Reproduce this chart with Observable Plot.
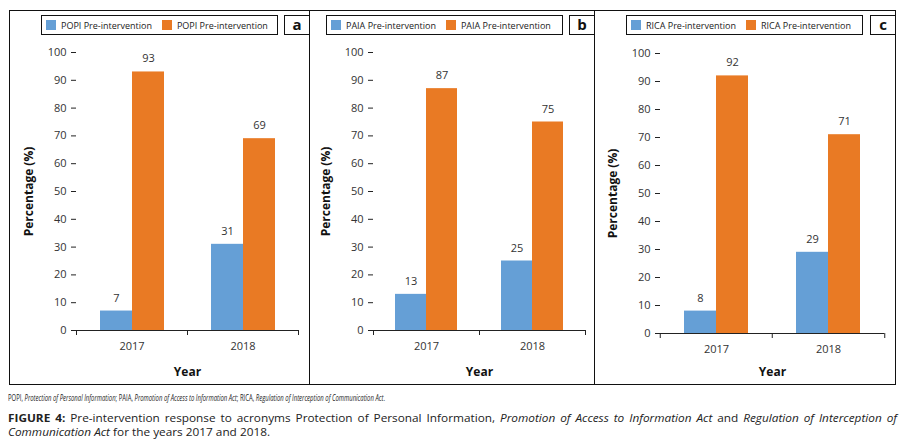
<!DOCTYPE html>
<html>
<head>
<meta charset="utf-8">
<script src="https://cdn.jsdelivr.net/npm/d3@7"></script>
<script src="https://cdn.jsdelivr.net/npm/@observablehq/plot@0.6"></script>
<style>
  html, body { margin: 0; padding: 0; background: #fff; }
  body { width: 906px; height: 446px; position: relative; overflow: hidden; font-family: "Open Sans", sans-serif; }
  .panel { position: absolute; top: 10px; height: 375px; border: 1px solid #111; box-sizing: border-box; }
  .panel svg { position: absolute; top: 29px; left: 0; }
  .legend { position: absolute; top: 4px; height: 20px; width: 237px; border: 1px solid #111; box-sizing: border-box;
            display: flex; align-items: center; font-size: 9px; color: #222; white-space: nowrap; }
  .legend .sw { display: inline-block; width: 10px; height: 10px; margin: 0 5px 0 4px; }
  .legend .item { display: flex; align-items: center; margin-right: 6px; }
  .letter { position: absolute; top: 4px; right: -1px; width: 26px; height: 20px; border: 1px solid #111; box-sizing: border-box;
            font: bold 15px "Open Sans", sans-serif; text-align: center; line-height: 17px; color: #111; }
  .fit { position: absolute; left: 8px; font-family: "Open Sans", sans-serif; color: #222; white-space: nowrap;
         transform-origin: 0 0; }
  .note { top: 392px; font-size: 8.5px; line-height: 12px; }
  .cap1 { top: 410.5px; font-size: 11px; line-height: 13px; }
  .cap2 { top: 424.5px; font-size: 11px; line-height: 13px; }
</style>
</head>
<body>
<div id="pa" class="panel" style="left:9px;width:301px;"></div>
<div id="pb" class="panel" style="left:309px;width:286px;"></div>
<div id="pc" class="panel" style="left:594px;width:302px;"></div>
<div id="note" class="fit note">POPI, <i>Protection of Personal Information</i>; PAIA, <i>Promotion of Access to Information Act</i>; RICA, <i>Regulation of Interception of Communication Act</i>.</div>
<div id="cap1" class="fit cap1"><b>FIGURE 4:</b> Pre-intervention response to acronyms Protection of Personal Information, <i>Promotion of Access to Information Act</i> and <i>Regulation of Interception of</i></div>
<div id="cap2" class="fit cap2"><i>Communication Act</i> for the years 2017 and 2018.</div>
<script>
// ---- data ----
const years = ["2017", "2018"];
const yTicks = [0, 10, 20, 30, 40, 50, 60, 70, 80, 90, 100];
const seriesKeys = ["first", "second"];
const seriesColors = ["#659fd6", "#e97a24"];

const popiLabels = ["POPI Pre-intervention", "POPI Pre-intervention"];
const popiFirst = [7, 31];
const popiSecond = [93, 69];

const paiaLabels = ["PAIA Pre-intervention", "PAIA Pre-intervention"];
const paiaFirst = [13, 25];
const paiaSecond = [87, 75];

const ricaLabels = ["RICA Pre-intervention", "RICA Pre-intervention"];
const ricaFirst = [8, 29];
const ricaSecond = [92, 71];

function makePanel(id, letter, labels, first, second, opts) {
  const el = document.getElementById(id);
  const rows = years.flatMap((y, i) => [
    {year: y, series: seriesKeys[0], value: first[i]},
    {year: y, series: seriesKeys[1], value: second[i]}
  ]);
  // legend
  const lg = document.createElement("div");
  lg.className = "legend";
  lg.style.left = opts.legendLeft + "px";
  labels.forEach((t, i) => {
    const it = document.createElement("span");
    it.className = "item";
    const sw = document.createElement("span");
    sw.className = "sw";
    sw.style.background = seriesColors[i];
    it.appendChild(sw);
    it.appendChild(document.createTextNode(t));
    lg.appendChild(it);
  });
  el.appendChild(lg);
  const lt = document.createElement("div");
  lt.className = "letter";
  lt.textContent = letter;
  el.appendChild(lt);

  const H = 344;
  const half = (opts.width - opts.ml - opts.mr) / years.length / 2;
  const chart = Plot.plot({
    width: opts.width, height: H,
    marginLeft: opts.ml, marginRight: opts.mr, marginTop: opts.mt, marginBottom: opts.mb,
    style: {fontFamily: "Open Sans, sans-serif", fontSize: "11px", color: "#333", background: "transparent"},
    fx: {domain: years, padding: 0},
    x: {domain: seriesKeys, paddingInner: 0, paddingOuter: 0.7, axis: null},
    y: {domain: [0, 100]},
    color: {domain: seriesKeys, range: seriesColors},
    marks: [
      Plot.barY(rows, {fx: "year", x: "series", y: "value", fill: "series"}),
      Plot.text(rows, {fx: "year", x: "series", y: "value", text: d => String(d.value), dy: -13, fontSize: 11, fill: "#333"}),
      Plot.ruleY([0], {stroke: "#222"}),
      Plot.axisY({ticks: yTicks, tickSize: 5, tickPadding: 5, tickFormat: d => String(d), stroke: "#222",
                  fontSize: 11, line: true, label: "Percentage (%)", labelAnchor: "center", labelOffset: 52,
                  labelArrow: "none"}),
      // category boundary ticks (Excel style): shift band-centre ticks by half a band
      Plot.axisFx({anchor: "bottom", tickSize: 5, tickFormat: null, label: null, dx: -half, stroke: "#222"}),
      Plot.axisFx({anchor: "bottom", ticks: [years[years.length - 1]], tickSize: 5, tickFormat: null, label: null, dx: half, stroke: "#222"}),
      Plot.axisFx({anchor: "bottom", tickSize: 0, tickPadding: 12, fontSize: 11, label: "Year", labelAnchor: "center", labelOffset: opts.yearOffset})
    ]
  });
  el.appendChild(chart);
}

makePanel("pa", "a", popiLabels, popiFirst, popiSecond, {legendLeft: 31, width: 299, ml: 66, mr: 11, mt: 12, mb: 54, yearOffset: 45});
makePanel("pb", "b", paiaLabels, paiaFirst, paiaSecond, {legendLeft: 16, width: 284, ml: 63, mr: 9, mt: 12, mb: 54, yearOffset: 45});
makePanel("pc", "c", ricaLabels, ricaFirst, ricaSecond, {legendLeft: 31, width: 300, ml: 64, mr: 11, mt: 13, mb: 51, yearOffset: 42});

// bold axis labels
document.querySelectorAll("svg g[aria-label='y-axis label'], svg g[aria-label='fx-axis label']").forEach(n => {
  n.setAttribute("font-weight", "bold");
  n.setAttribute("font-size", "12");
  n.setAttribute("fill", "#111");
});

// condense caption lines to the reference widths
function fit(id, target) {
  const el = document.getElementById(id);
  const w = el.getBoundingClientRect().width;
  const s = target / w;
  el.style.transform = `scaleX(${s})`;
  return s;
}
fit("note", 377);
const s = fit("cap2", 262);
const c1 = document.getElementById("cap1");
c1.style.transform = `scaleX(${s})`;
const w1 = c1.getBoundingClientRect().width / s;
const spaces = (c1.textContent.match(/ /g) || []).length;
const extra = (889 / s - w1) / spaces;
if (extra > 0) c1.style.wordSpacing = extra + "px";
</script>
</body>
</html>
